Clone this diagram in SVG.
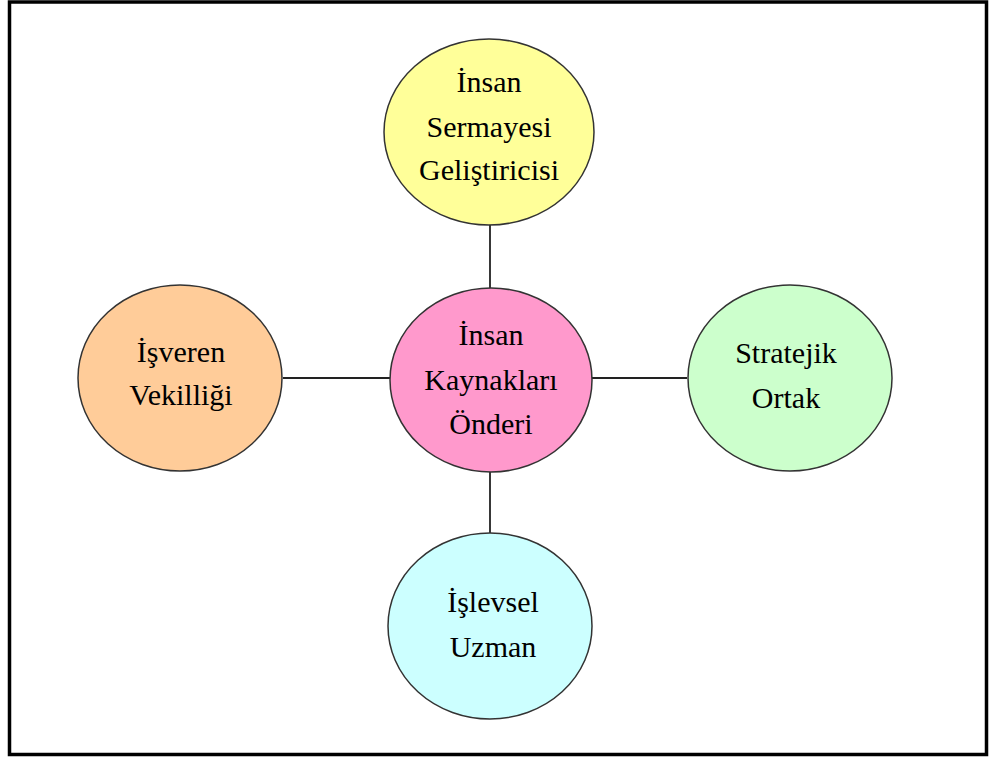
<svg xmlns="http://www.w3.org/2000/svg" width="991" height="758" viewBox="0 0 991 758">
<style>
.n{stroke:#333;stroke-width:1.5}
.t{font-family:"Liberation Serif","Times New Roman",serif;font-size:30px;fill:#000;text-anchor:middle}
.c{stroke:#222;stroke-width:1.8;fill:none}
</style>
<rect x="0" y="0" width="991" height="758" fill="#fff"/>
<rect x="9.5" y="2" width="977" height="752.5" fill="#fff" stroke="#000" stroke-width="3.5"/>
<g id="connectors">
<line class="c" x1="490" y1="225" x2="490" y2="288"/>
<line class="c" x1="490" y1="472" x2="490" y2="533"/>
<line class="c" x1="283" y1="378" x2="390" y2="378"/>
<line class="c" x1="592" y1="378" x2="687" y2="378"/>
</g>
<g id="n-top">
<ellipse class="n" cx="489" cy="132" rx="105" ry="93" fill="#FFFF99"/>
<text class="t" x="489" y="92">İnsan</text>
<text class="t" x="489" y="137">Sermayesi</text>
<text class="t" x="489" y="180">Geliştiricisi</text>
</g>
<g id="n-center">
<ellipse class="n" cx="491" cy="380" rx="101" ry="92" fill="#FF99CC"/>
<text class="t" x="491" y="345">İnsan</text>
<text class="t" x="491" y="390">Kaynakları</text>
<text class="t" x="491" y="434">Önderi</text>
</g>
<g id="n-left">
<ellipse class="n" cx="180" cy="378" rx="102" ry="93" fill="#FFCC99"/>
<text class="t" x="181" y="362">İşveren</text>
<text class="t" x="181" y="405">Vekilliği</text>
</g>
<g id="n-right">
<ellipse class="n" cx="790" cy="378" rx="102" ry="93" fill="#CCFFCC"/>
<text class="t" x="786" y="363">Stratejik</text>
<text class="t" x="786" y="408">Ortak</text>
</g>
<g id="n-bottom">
<ellipse class="n" cx="490" cy="626" rx="102" ry="93" fill="#CCFFFF"/>
<text class="t" x="493" y="612">İşlevsel</text>
<text class="t" x="493" y="657">Uzman</text>
</g>
</svg>
